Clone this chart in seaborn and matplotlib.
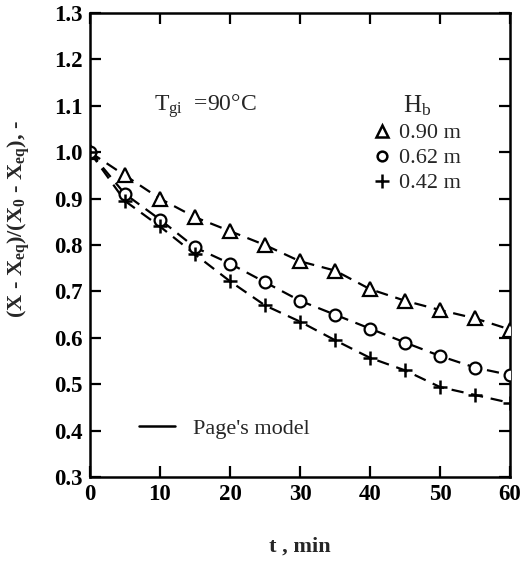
import numpy as np
import pandas as pd
import matplotlib.pyplot as plt
import seaborn as sns
from matplotlib.lines import Line2D

# 数据
t = [0, 5, 10, 15, 20, 25, 30, 35, 40, 45, 50, 55, 60]
h090 = [1.0, 0.95, 0.90, 0.86, 0.83, 0.80, 0.765, 0.745, 0.705, 0.68, 0.66, 0.642, 0.618]
h062 = [1.0, 0.91, 0.855, 0.795, 0.76, 0.72, 0.68, 0.65, 0.62, 0.59, 0.561, 0.536, 0.52]
h042 = [1.0, 0.895, 0.84, 0.78, 0.722, 0.67, 0.635, 0.595, 0.557, 0.53, 0.494, 0.477, 0.46]
labels = ['0.90 m', '0.62 m', '0.42 m']
markers = ['^', 'o', '+']

df = pd.DataFrame({
    't': t * 3,
    'ratio': h090 + h062 + h042,
    'Hb': np.repeat(labels, len(t)),
})

sns.set_theme(style='ticks')
plt.rcParams['font.family'] = ['Liberation Serif', 'DejaVu Serif']
plt.rcParams['mathtext.fontset'] = 'custom'
plt.rcParams['mathtext.rm'] = 'Liberation Serif'
plt.rcParams['mathtext.it'] = 'Liberation Serif'
plt.rcParams['mathtext.bf'] = 'Liberation Serif:bold'

fig = plt.figure(figsize=(5.2, 5.64), dpi=100)
ax = fig.add_axes([0.173, 0.154, 0.808, 0.823])

# Page's model 曲线 (虚线)
sns.lineplot(data=df, x='t', y='ratio', hue='Hb', palette=['black'] * 3,
             linestyle=(0, (5.5, 3.5)), linewidth=1.6, legend=False, ax=ax)

# 实验点
for lab, m in zip(labels, markers):
    sub = df[df['Hb'] == lab]
    if m == '+':
        ax.plot(sub['t'], sub['ratio'], linestyle='none', marker='+', ms=10,
                mew=1.8, color='black', zorder=3)
    elif m == '^':
        ax.plot(sub['t'], sub['ratio'], linestyle='none', marker=m, ms=10,
                mew=1.6, mfc='white', mec='black', zorder=3)
    else:
        ax.plot(sub['t'], sub['ratio'], linestyle='none', marker=m, ms=8.5,
                mew=1.6, mfc='white', mec='black', zorder=3)

ax.set_xlim(0, 60)
ax.set_ylim(0.3, 1.3)
ax.set_xticks(range(0, 61, 10))
ax.set_yticks(np.round(np.arange(0.3, 1.31, 0.1), 1))
ax.tick_params(direction='in', length=8, width=1.6, top=True, right=True,
               labelsize=16.5, pad=5, colors='black')
for lbl in ax.get_xticklabels() + ax.get_yticklabels():
    lbl.set_fontweight('bold')
for s in ax.spines.values():
    s.set_linewidth(1.8)
    s.set_color('black')

ax.set_xlabel('t , min', fontsize=16, fontweight='bold')
ax.xaxis.set_label_coords(0.5, -0.128)
ax.set_ylabel(r'(X - X$_{\mathbf{eq}}$)/(X$_{\mathbf{0}}$ - X$_{\mathbf{eq}}$), -',
              fontsize=16, fontweight='bold')
ax.yaxis.set_label_coords(-0.138, 0.555)

ax.text(9.2, 1.1, r'T$_{\mathrm{gi}}$  =90°C', fontsize=17, va='center')

# 图例
handles = [Line2D([], [], linestyle='none', marker='^', ms=8, mew=1.8,
                  mfc='white', mec='black'),
           Line2D([], [], linestyle='none', marker='o', ms=7, mew=1.8,
                  mfc='white', mec='black'),
           Line2D([], [], linestyle='none', marker='+', ms=10, mew=1.8,
                  color='black')]
leg = ax.legend(handles, labels, title=r'H$_{\mathrm{b}}$', loc='upper right',
                bbox_to_anchor=(0.91, 0.85), frameon=False, fontsize=16,
                title_fontsize=18, handlelength=0.8, handletextpad=0.4,
                labelspacing=0.2, borderpad=0)
ax.add_artist(leg)
ax.legend([Line2D([], [], color='black', lw=1.8)], ["Page's model"],
          loc='lower left', bbox_to_anchor=(0.07, 0.04), frameon=False,
          fontsize=16, handlelength=1.6, handletextpad=0.8)

fig.savefig('out.png', dpi=100)
